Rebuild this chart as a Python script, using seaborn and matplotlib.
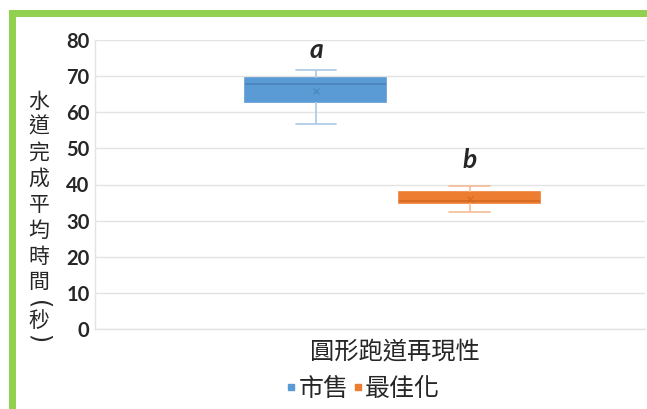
import numpy as np
import pandas as pd
import matplotlib
matplotlib.use("Agg")
import matplotlib.pyplot as plt
from matplotlib.patches import Rectangle
from matplotlib.lines import Line2D
import seaborn as sns

# values (5 points -> min, q1, median, q3, max)
category = "圓形跑道再現性"
groups = ["市售", "最佳化"]
vals_market = [56.8, 62.9, 67.9, 69.5, 71.7]
vals_optim = [32.4, 34.9, 35.5, 37.9, 39.7]
letters = ["a", "b"]
letter_y = [77.3, 46.8]
yticks = [0, 10, 20, 30, 40, 50, 60, 70, 80]

fill_colors = ["#5B9BD5", "#ED7D31"]
whisk_colors = ["#A9C8E8", "#F4BC96"]
median_colors = ["#4A84BC", "#D36A22"]

df = pd.DataFrame({
    "cat": category,
    "group": [groups[0]] * len(vals_market) + [groups[1]] * len(vals_optim),
    "value": vals_market + vals_optim,
})

sns.set_style("white")
plt.rcParams['font.family'] = ['Lato', 'Noto Sans CJK TC', 'DejaVu Sans']
cjk = ["Noto Sans CJK TC"]

fig = plt.figure(figsize=(6.47, 4.09), dpi=100)
ax = fig.add_axes([95 / 647, 80 / 409, 550 / 647, 289 / 409])

sns.boxplot(data=df, x="cat", y="value", hue="group", hue_order=groups,
            palette=fill_colors, width=0.8, gap=0.085, whis=(0, 100),
            showmeans=True, legend=False, ax=ax, linewidth=1.2,
            meanprops=dict(marker="x", markersize=4, markeredgewidth=0.8))

# recolour each box: fill-coloured edge, light whiskers, darker median
for patch, c in zip(ax.patches, fill_colors):
    patch.set_facecolor(c)
    patch.set_edgecolor(c)
box_vals = [vals_market, vals_optim]
for ln in ax.lines:
    x = np.asarray(ln.get_xdata(), dtype=float)
    y = np.asarray(ln.get_ydata(), dtype=float)
    if len(x) == 0:
        continue
    i = 0 if x.mean() < 0 else 1
    ln.set_color(whisk_colors[i])
    ln.set_markeredgecolor(median_colors[i])
    if len(y) == 2 and y[0] == y[1]:
        if np.isclose(y[0], np.median(box_vals[i])):
            ln.set_color(median_colors[i])
        elif np.isclose(y[0], min(box_vals[i])) or np.isclose(y[0], max(box_vals[i])):
            cx = x.mean()
            ln.set_xdata([cx - 0.053, cx + 0.053])

ax.set_ylim(0, 80)
ax.set_xlim(-0.774, 0.655)
ax.set_yticks(yticks)
ax.yaxis.grid(True, color="#E3E3E3", linewidth=1)
ax.set_axisbelow(True)
ax.tick_params(axis="y", length=0, pad=4, labelsize=14.5)
for t in ax.get_yticklabels():
    t.set_fontweight("bold")
ax.set_xticks([])
ax.set_ylabel("")
for s in ["top", "right"]:
    ax.spines[s].set_visible(False)
for s in ["left", "bottom"]:
    ax.spines[s].set_color("#E3E3E3")
    ax.spines[s].set_linewidth(1)

# significance letters
for x, lab, y in zip([-0.2, 0.2], letters, letter_y):
    ax.text(x, y, lab, ha="center", va="center", fontsize=19,
            fontweight="bold", fontstyle="italic", family=["Lato"])

ax.set_xlabel(category, fontsize=17.5, family=cjk)
ax.xaxis.set_label_coords(0.545, -0.032)

# vertical y label, one character per row; brackets turned to lie flat
ylab_chars = list("水道完成平均時間") + ["(", "秒", ")"]
ylab_pix = [102, 127, 153, 179, 205, 231, 257, 282, 305, 321, 339]
for ch, py in zip(ylab_chars, ylab_pix):
    if ch in "()":
        fig.text(39 / 647, 1 - py / 409, ch, ha="center", va="center",
                 fontsize=17, family=["DejaVu Sans"], rotation=-90)
    else:
        fig.text(39 / 647, 1 - py / 409, ch, ha="center", va="center",
                 fontsize=15, family=cjk)

handles = [Line2D([], [], marker="s", linestyle="none", markersize=4,
                  markerfacecolor=c, markeredgecolor=c) for c in fill_colors]
fig.legend(handles, groups, loc="center", bbox_to_anchor=(364 / 647, 1 - 389 / 409),
           ncol=2, frameon=False, handlelength=0.3, handletextpad=0.15,
           columnspacing=0.2, prop={"family": cjk, "size": 18})

# green frame around the chart
fig.add_artist(Rectangle((11.5 / 647, -0.2), (648.5 - 11.5) / 647, 1.2 - 12.5 / 409,
                         transform=fig.transFigure, fill=False,
                         edgecolor="#92D050", linewidth=5.04, clip_on=False))

fig.savefig("out.png", dpi=100)
